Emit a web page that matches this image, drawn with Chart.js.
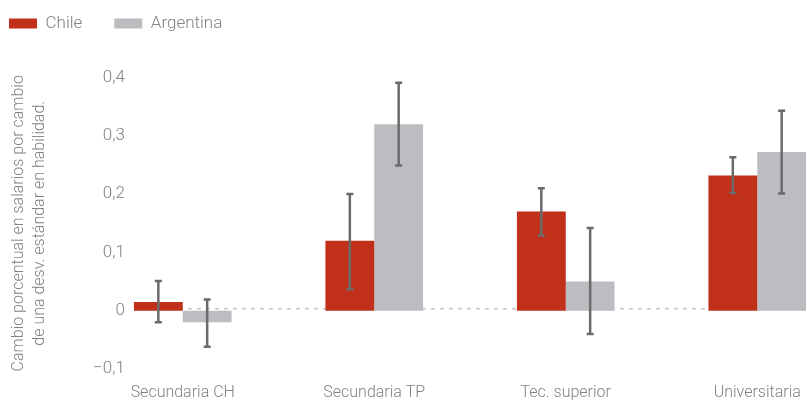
<!DOCTYPE html>
<html>
<head>
<meta charset="utf-8">
<script src="https://cdn.jsdelivr.net/npm/chart.js@4.4.1/dist/chart.umd.min.js"></script>
<style>
  html, body { margin: 0; padding: 0; background: #fff; overflow: hidden; }
  #wrap { width: 807px; height: 401px; overflow: hidden; }
</style>
</head>
<body>
<div id="wrap"><canvas id="skills" width="856" height="401"></canvas></div>
<script>
var categories = ["Secundaria CH", "Secundaria TP", "Tec. superior", "Universitaria"];
var chile = [0.015, 0.12, 0.17, 0.232];
var chileLow = [-0.02, 0.037, 0.129, 0.202];
var chileHigh = [0.051, 0.2, 0.21, 0.263];
var argentina = [-0.02, 0.32, 0.05, 0.272];
var argentinaLow = [-0.062, 0.249, -0.04, 0.201];
var argentinaHigh = [0.019, 0.391, 0.142, 0.343];
var yTicks = [-0.1, 0, 0.1, 0.2, 0.3, 0.4];
var yTickLabels = ["\u22120,1", "0", "0,1", "0,2", "0,3", "0,4"];
var yTitle = ["Cambio porcentual en salarios por cambio", "de una desv. estándar en habilidad."];

var textColor = "#828282";
var fontFamily = "Roboto, sans-serif";

// the legend sits in a taller box so the plot starts lower
var legendSpace = {
    id: "legendSpace",
    beforeLayout: function (chart) {
        var legend = chart.legend;
        if (!legend || legend._tall) return;
        var fit = legend.fit;
        legend.fit = function () {
            fit.call(this);
            this.height = 94.5;
        };
        legend._tall = true;
    }
};

// dashed zero line, drawn under the bars
var zeroLine = {
    id: "zeroLine",
    beforeDatasetsDraw: function (chart) {
        var ctx = chart.ctx;
        var y = chart.scales.y.getPixelForValue(0) - 2;
        var first = chart.getDatasetMeta(0).data[0];
        ctx.save();
        ctx.strokeStyle = "#cfcfcf";
        ctx.lineWidth = 2;
        ctx.setLineDash([4, 5]);
        ctx.beginPath();
        ctx.moveTo(first.x - first.width / 2, y);
        ctx.lineTo(chart.chartArea.right, y);
        ctx.stroke();
        ctx.restore();
    }
};

// error bars from the low/high arrays
var errorBars = {
    id: "errorBars",
    afterDatasetsDraw: function (chart) {
        var ctx = chart.ctx;
        var yScale = chart.scales.y;
        var ranges = [[chileLow, chileHigh], [argentinaLow, argentinaHigh]];
        ctx.save();
        ctx.strokeStyle = "#6b6b6b";
        ctx.lineWidth = 2.5;
        ranges.forEach(function (r, i) {
            chart.getDatasetMeta(i).data.forEach(function (bar, j) {
                var lo = yScale.getPixelForValue(r[0][j]);
                var hi = yScale.getPixelForValue(r[1][j]);
                ctx.beginPath();
                ctx.moveTo(bar.x, lo);
                ctx.lineTo(bar.x, hi);
                ctx.moveTo(bar.x - 3.5, lo);
                ctx.lineTo(bar.x + 3.5, lo);
                ctx.moveTo(bar.x - 3.5, hi);
                ctx.lineTo(bar.x + 3.5, hi);
                ctx.stroke();
            });
        });
        ctx.restore();
    }
};

new Chart(document.getElementById("skills"), {
    type: "bar",
    data: {
        labels: categories,
        datasets: [
            {
                label: "Chile",
                data: chile,
                backgroundColor: "#c0301b",
                categoryPercentage: 0.51,
                barPercentage: 1.0
            },
            {
                label: "Argentina",
                data: argentina,
                backgroundColor: "#bcbdc1",
                categoryPercentage: 0.51,
                barPercentage: 1.0
            }
        ]
    },
    options: {
        responsive: false,
        devicePixelRatio: 1,
        animation: false,
        layout: { padding: { left: -23, top: -17, right: 3, bottom: 0 } },
        plugins: {
            tooltip: { enabled: false },
            legend: {
                position: "top",
                align: "start",
                labels: {
                    boxWidth: 28,
                    boxHeight: 10,
                    padding: 32,
                    color: textColor,
                    font: { family: fontFamily, size: 17, weight: 300 }
                }
            }
        },
        scales: {
            x: {
                grid: { display: false, drawTicks: false },
                border: { display: false },
                ticks: {
                    color: textColor,
                    padding: 14,
                    maxRotation: 0,
                    font: { family: fontFamily, size: 16, weight: 300 }
                },
                afterFit: function (scale) {
                    scale.height = 32;
                    scale.paddingLeft = 0;
                    scale.paddingRight = 0;
                }
            },
            y: {
                min: -0.1,
                max: 0.4,
                afterBuildTicks: function (scale) {
                    scale.ticks = yTicks.map(function (v) { return { value: v }; });
                },
                grid: { display: false, drawTicks: false },
                border: { display: false },
                ticks: {
                    color: textColor,
                    mirror: true,
                    crossAlign: "far",
                    padding: 6,
                    font: { family: fontFamily, size: 17, weight: 300 },
                    callback: function (value, index) { return yTickLabels[index]; }
                },
                title: {
                    display: true,
                    text: yTitle,
                    color: textColor,
                    padding: { top: 32 },
                    font: { family: fontFamily, size: 16, weight: 300, lineHeight: 1.3 }
                },
                afterFit: function (scale) {
                    scale.width = 110;
                }
            }
        }
    },
    plugins: [legendSpace, zeroLine, errorBars]
});
</script>
</body>
</html>
